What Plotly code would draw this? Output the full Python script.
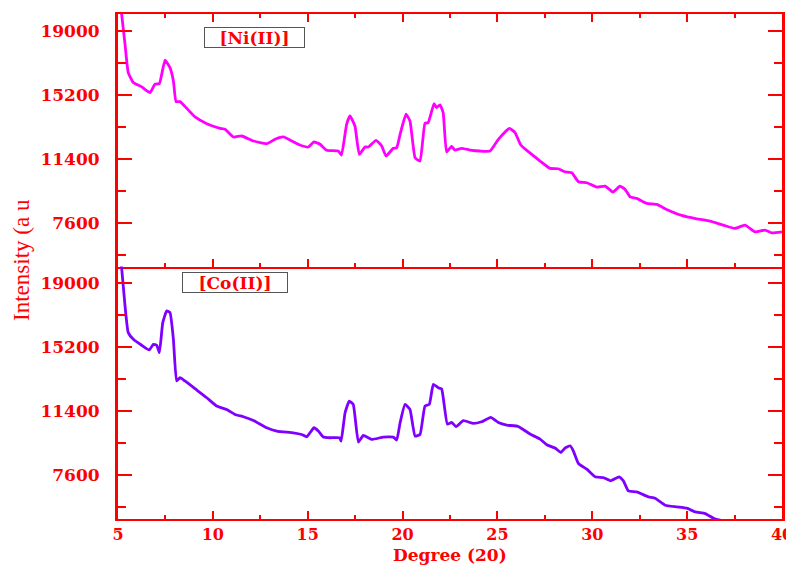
import plotly.graph_objects as go
from plotly.subplots import make_subplots

# ---------------- data ----------------
ni_x = [5.05, 5.2, 5.37, 5.54, 5.81, 6.25, 6.69, 6.95, 7.18, 7.48, 7.74, 7.92, 8.06, 8.27, 8.62,
        9.06, 9.68, 10.38, 10.64, 11.08, 11.52, 12.14, 12.84, 13.28, 13.72, 14.16, 14.59, 15.03,
        15.33, 15.65, 16.0, 16.61, 16.78, 17.05, 17.23, 17.49, 17.72, 18.02, 18.2, 18.6, 18.9,
        19.13, 19.51, 19.69, 19.87, 20.18, 20.39, 20.66, 20.92, 21.18, 21.35, 21.66, 21.79, 21.97,
        22.14, 22.32, 22.58, 22.76, 23.11, 23.56, 24.08, 24.61, 25.05, 25.63, 25.93, 26.23, 26.63,
        27.25, 27.77, 28.21, 28.56, 28.92, 29.27, 29.71, 30.24, 30.68, 31.09, 31.46, 31.73, 31.99,
        32.34, 32.87, 33.4, 33.92, 34.71, 35.5, 36.21, 36.91, 37.52, 38.05, 38.58, 39.1, 39.46, 40.0]
ni_y = [21500, 19900, 18210, 16520, 15925, 15670, 15330, 15830, 15865, 17257, 16817, 16025, 14794,
        14794, 14400, 13883, 13485, 13210, 13150, 12694, 12753, 12456, 12295, 12557, 12694, 12456,
        12218, 12099, 12396, 12259, 11902, 11860, 11622, 13449, 13943, 13348, 11664, 12099, 12099,
        12497, 12158, 11563, 12021, 12057, 12854, 14044, 13645, 11462, 11266, 13500, 13545, 14675,
        14437, 14598, 14140, 11800, 12140, 11910, 12021, 11920, 11860, 11860, 12557, 13210, 12950,
        12218, 11820, 11266, 10830, 10807, 10629, 10569, 10034, 9974, 9718, 9778, 9421, 9778, 9580,
        9141, 9045, 8748, 8689, 8392, 8035, 7833, 7696, 7458, 7261, 7458, 7059, 7160, 7000, 7059]

co_x = [5.05, 5.19, 5.37, 5.54, 5.81, 6.25, 6.65, 6.86, 7.04, 7.18, 7.36, 7.57, 7.74, 7.92, 8.09,
        8.27, 8.53, 9.06, 9.68, 10.2, 10.73, 11.17, 11.61, 12.14, 12.84, 13.37, 14.24, 14.68, 14.95,
        15.33, 15.56, 15.82, 16.18, 16.67, 16.76, 16.97, 17.19, 17.4, 17.67, 17.93, 18.37, 18.98,
        19.51, 19.69, 19.87, 20.13, 20.39, 20.66, 20.92, 21.18, 21.41, 21.62, 21.88, 22.06, 22.36,
        22.59, 22.82, 23.2, 23.73, 24.17, 24.65, 25.05, 25.49, 26.1, 26.72, 27.25, 27.6, 28.04,
        28.34, 28.56, 28.83, 29.0, 29.27, 29.71, 30.15, 30.58, 30.97, 31.41, 31.64, 31.9, 32.34,
        32.96, 33.31, 33.84, 34.45, 34.98, 35.42, 35.95, 36.39, 36.74, 37.5, 40.0]
co_y = [21000, 19940, 17660, 16073, 15677, 15320, 15044, 15377, 15320, 14883, 16668, 17364, 17263,
        15677, 13199, 13395, 13199, 12741, 12205, 11711, 11509, 11212, 11075, 10855, 10420, 10224,
        10123, 10022, 9885, 10420, 10224, 9867, 9826, 9826, 9630, 11313, 12009, 11807, 9569, 9962,
        9726, 9867, 9867, 9689, 10718, 11807, 11509, 9926, 10022, 11711, 11807, 12997, 12800, 12723,
        10641, 10736, 10480, 10837, 10677, 10778, 11033, 10736, 10581, 10498, 10046, 9748, 9409,
        9213, 8951, 9213, 9350, 9052, 8297, 7963, 7505, 7463, 7267, 7505, 7267, 6672, 6613, 6315,
        6236, 5820, 5720, 5642, 5422, 5321, 5047, 4928, 4700, 4300]

y_tick_vals = [7600, 11400, 15200, 19000]
y_tick_text = ["7600", "11400", "15200", "19000"]
x_tick_vals = [5, 10, 15, 20, 25, 30, 35, 40]
labels = ["[Ni(II)]", "[Co(II)]"]

# ---------------- figure ----------------
RED = "#FF0000"
fig = make_subplots(rows=2, cols=1, shared_xaxes=True, vertical_spacing=0)

fig.add_trace(go.Scatter(x=ni_x, y=ni_y, mode="lines",
                         line=dict(color="#FF00FF", width=2.8, shape="spline", smoothing=0.4),
                         showlegend=False), row=1, col=1)
fig.add_trace(go.Scatter(x=co_x, y=co_y, mode="lines",
                         line=dict(color="#7F00FF", width=2.8, shape="spline", smoothing=0.4),
                         showlegend=False), row=2, col=1)

ytickfont = dict(family="DejaVu Serif", size=17, color=RED, weight="bold")
xtickfont = dict(family="DejaVu Serif", size=16, color=RED, weight="bold")

for r in (1, 2):
    fig.update_xaxes(range=[5, 40], showline=True, linecolor=RED, linewidth=2,
                     mirror="allticks" if r == 1 else False,
                     ticks="inside", tickcolor=RED, ticklen=8, tickwidth=2,
                     tickmode="array", tickvals=x_tick_vals, automargin=False,
                     minor=dict(ticks="inside", tickcolor=RED, ticklen=4, tickwidth=2, dtick=2.5, tick0=5),
                     showgrid=False, zeroline=False, tickfont=xtickfont, ticklabelstandoff=0,
                     row=r, col=1)
    fig.update_yaxes(range=[5000, 20000], showline=True, linecolor=RED, linewidth=3, mirror="allticks",
                     ticks="inside", tickcolor=RED, ticklen=14, tickwidth=2, automargin=False,
                     tickmode="array", tickvals=y_tick_vals, ticktext=y_tick_text,
                     minor=dict(ticks="inside", tickcolor=RED, ticklen=8, tickwidth=2,
                                tickvals=[5700, 9500, 13300, 17100]),
                     showgrid=False, zeroline=False, tickfont=ytickfont, ticklabelstandoff=12,
                     row=r, col=1)

fig.update_xaxes(showticklabels=False, row=1, col=1)

annotations = [
    dict(text="Intensity (a u", xref="paper", yref="paper", x=0, y=0.513, xshift=-96,
         xanchor="center", yanchor="middle", textangle=-90, showarrow=False,
         font=dict(family="Liberation Serif", size=23, color=RED)),
    dict(text="Degree (20)", xref="paper", yref="paper", x=0.5, y=-0.0705,
         xanchor="center", yanchor="middle", showarrow=False,
         font=dict(family="DejaVu Serif", size=17, color=RED, weight="bold")),
    dict(text=labels[0], xref="paper", yref="paper", x=0.2056, y=0.9535,
         xanchor="center", yanchor="middle", showarrow=False, width=97, height=17,
         bordercolor="#555555", borderwidth=1, borderpad=1, bgcolor="white",
         font=dict(family="DejaVu Serif", size=17, color=RED, weight="bold")),
    dict(text=labels[1], xref="paper", yref="paper", x=0.176, y=0.469,
         xanchor="center", yanchor="middle", showarrow=False, width=102, height=17,
         bordercolor="#555555", borderwidth=1, borderpad=1, bgcolor="white",
         font=dict(family="DejaVu Serif", size=17, color=RED, weight="bold")),
]

# page body has an 8px default margin, so the figure is sized 8px smaller on each axis
fig.update_layout(width=786, height=557, margin=dict(l=110, r=12, t=6, b=46, autoexpand=False),
                  paper_bgcolor="white", plot_bgcolor="white", annotations=annotations)

fig.write_html("out.html")
